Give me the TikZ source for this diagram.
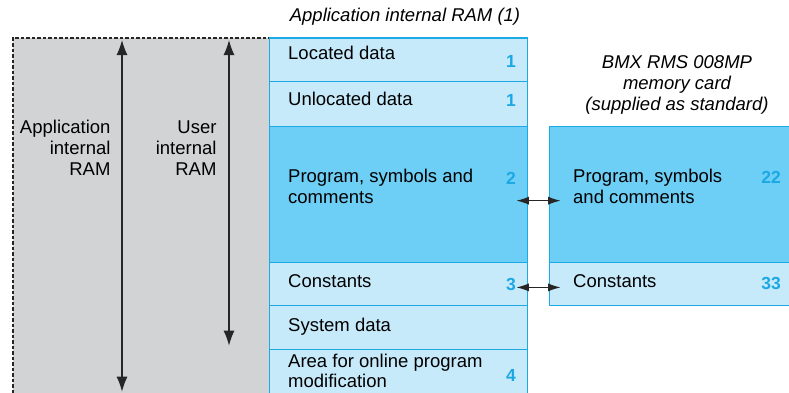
\documentclass[tikz,border=0pt]{standalone}
\usepackage{fontspec}
\setmainfont{Liberation Sans}
\usetikzlibrary{arrows.meta}
\definecolor{lightblue}{HTML}{C7EAFB}
\definecolor{midblue}{HTML}{6DCFF6}
\definecolor{edgeblue}{HTML}{1CA9E4}
\definecolor{numblue}{HTML}{1BA8E3}
\definecolor{grayfill}{HTML}{D1D3D4}
\tikzset{
  txt/.style={inner sep=0pt, anchor=base west, align=left, font=\fontsize{18.5}{21}\selectfont},
  lbl/.style={inner sep=0pt, anchor=base east, align=right, font=\fontsize{18.5}{21}\selectfont},
  head/.style={inner sep=0pt, anchor=base, align=center, font=\fontsize{18.5}{21}\selectfont\itshape},
  num/.style={inner sep=0pt, anchor=center, text=numblue, font=\fontsize{17.5}{21}\selectfont\bfseries},
  row/.style={draw=edgeblue, line width=1.3pt, fill=lightblue, rectangle, inner sep=0pt, anchor=north west, minimum width=#1},
  row/.default=257.7pt,
  darkrow/.style={row=#1, fill=midblue},
  darkrow/.default=257.7pt,
  varrow/.style={line width=1.3pt, draw=black!85, {Latex[length=15pt,width=11pt]}-{Latex[length=15pt,width=11pt]}},
  darrow/.style={line width=1.3pt, draw=black!85, {Latex[length=12.5pt,width=8pt]}-{Latex[length=12.5pt,width=8pt]}},
}
\begin{document}
\begin{tikzpicture}[x=1pt,y=-1pt]
\clip (0,0) rectangle (789,392);
\fill[white] (0,0) rectangle (789,392);
% grey area
\node[draw=black!85, dash pattern=on 3.5pt off 2pt, line width=1.2pt, fill=grayfill, rectangle, inner sep=0pt, anchor=north west, minimum width=256.7pt, minimum height=400pt] (gray) at (12.3,37.3) {};
% left stack
\node[row, minimum height=43.7pt] (loc) at (269,37.3) {};
\node[row, minimum height=44.7pt] (unloc) at (269,81) {};
\node[darkrow, minimum height=136pt] (prog) at (269,125.7) {};
\node[row, minimum height=43.3pt] (const) at (269,261.7) {};
\node[row, minimum height=44pt] (sys) at (269,305) {};
\node[row, minimum height=70pt] (area) at (269,349) {};
% right stack
\node[darkrow=260pt, minimum height=136pt] (rprog) at (549,125.7) {};
\node[row=260pt, minimum height=43.3pt] (rconst) at (549,261.7) {};
% texts (multi-line nodes: base = last line's baseline)
\node[txt] (tloc) at (288,59) {Located data};
\node[txt] (tunloc) at (288,105) {Unlocated data};
\node[txt] (tprog) at (288,203.5) {Program, symbols and\\comments};
\node[txt] (tconst) at (288,287.3) {Constants};
\node[txt] (tsys) at (288,331.7) {System data};
\node[txt, font=\fontsize{18.5}{19.7}\selectfont] (tarea) at (288,387.4) {Area for online program\\modification};
\node[txt] (trprog) at (573,203) {Program, symbols\\and comments};
\node[txt] (trconst) at (573,287.3) {Constants};
% numbers
\node[num] (n1) at (511,61.5) {1};
\node[num] (n2) at (511,100.5) {1};
\node[num] (n3) at (511,178) {2};
\node[num] (n4) at (511,284) {3};
\node[num] (n5) at (511,375) {4};
\node[num] (n6) at (771,177.5) {22};
\node[num] (n7) at (771,283.5) {33};
% headings
\node[head] (h1) at (405,21) {Application internal RAM (1)};
\node[head] (h2) at (677,110.5) {BMX RMS 008MP\\memory card\\(supplied as standard)};
% grey labels
\node[lbl] (l1) at (110.7,175) {Application\\internal\\RAM};
\node[lbl] (l2) at (216.7,175) {User\\internal\\RAM};
% vertical arrows
\coordinate (a1t) at (122,40);
\coordinate (a1b) at (122,391.7);
\coordinate (a2t) at (229,40);
\coordinate (a2b) at (229,345.7);
\draw[varrow] (a1t) -- (a1b);
\draw[varrow] (a2t) -- (a2b);
% double arrows
\draw[darrow] ([shift={(-11.7,6.3)}]prog.east) -- ([shift={(11.7,6.3)}]rprog.west);
\draw[darrow] ([shift={(-11.7,3.4)}]const.east) -- ([shift={(11.7,3.4)}]rconst.west);
\end{tikzpicture}
\end{document}
